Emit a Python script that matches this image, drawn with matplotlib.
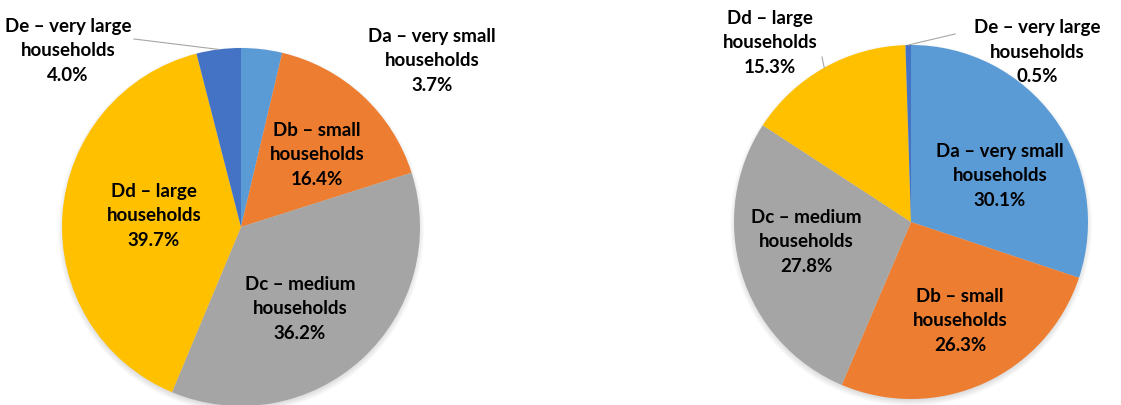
import numpy as np
import matplotlib
matplotlib.use("Agg")
import matplotlib.pyplot as plt
from matplotlib.patches import Circle

# Household size shares, two distributions
categories = ["Da \u2013 very small\nhouseholds", "Db \u2013 small\nhouseholds",
              "Dc \u2013 medium\nhouseholds", "Dd \u2013 large\nhouseholds",
              "De \u2013 very large\nhouseholds"]
left_values = [3.7, 16.4, 36.2, 39.7, 4.0]
right_values = [30.1, 26.3, 27.8, 15.3, 0.5]
colors = ["#5B9BD5", "#ED7D31", "#A5A5A5", "#FFC000", "#4472C4"]

W, H = 1121, 406
fig = plt.figure(figsize=(W / 100, H / 100), dpi=100)
ax = fig.add_axes([0, 0, 1, 1])
ax.set_xlim(0, W)
ax.set_ylim(0, H)
ax.set_aspect("equal")
ax.axis("off")

FONT = dict(family=["Lato", "DejaVu Sans"], fontweight="bold", fontsize=13.5,
            ha="center", va="center", color="#000000", linespacing=1.52)


def draw_pie(values, center, radius, label_pos, leaders):
    cx, cy = center
    # soft drop shadow under the pie
    for k in range(8):
        ax.add_patch(Circle((cx, cy - 3), radius + 4 - k, color="black",
                            alpha=0.018, lw=0, zorder=0))
    wedges, _ = ax.pie(values, colors=colors, startangle=90, counterclock=False,
                       center=center, radius=radius,
                       wedgeprops=dict(linewidth=0))
    for w in wedges:
        w.set_zorder(2)
    total = sum(values)
    cum = np.cumsum([0] + list(values))
    for i, (lab, v) in enumerate(zip(categories, values)):
        x, y = label_pos[i]
        ax.text(x, y, f"{lab}\n{v / total * 100:.1f}%", zorder=5, **FONT)
        if i in leaders:
            mid = (cum[i] + v / 2) / total
            ang = np.deg2rad(90 - mid * 360)
            ex, ey = cx + radius * np.cos(ang), cy + radius * np.sin(ang)
            sx, sy = leaders[i]
            ax.plot([sx, ex], [sy, ey], color="#A6A6A6", lw=0.8, zorder=4)
    ax.set_xlim(0, W)
    ax.set_ylim(0, H)
    ax.set_aspect("equal")


# label layout (image coordinates converted to axes coordinates)
def pos(x, y):
    return (x, H - y)


draw_pie(left_values, pos(241, 228), 179,
         [pos(432, 61), pos(317, 155), pos(300, 309), pos(154, 216), pos(68, 51)],
         {4: pos(134, 40)})
draw_pie(right_values, pos(911, 223), 177,
         [pos(1000, 176), pos(960, 321), pos(806, 242), pos(770, 43), pos(1037, 52)],
         {3: pos(822, 58), 4: pos(955, 35)})

fig.savefig("out.png", dpi=100)
